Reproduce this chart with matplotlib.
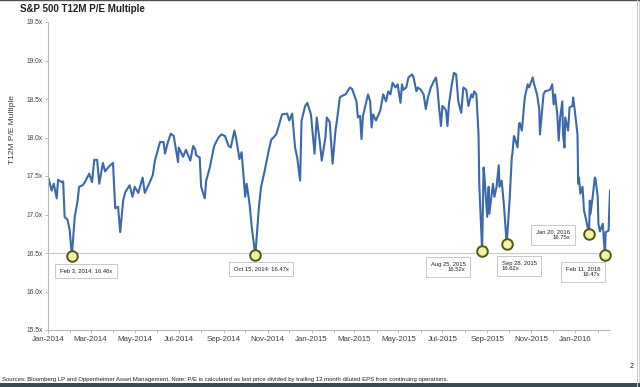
import numpy as np
import pandas as pd
import matplotlib
matplotlib.use("Agg")
import matplotlib.pyplot as plt
import matplotlib.dates as mdates
from matplotlib.patches import Rectangle
from matplotlib.lines import Line2D

plt.rcParams['font.family'] = ['Liberation Sans', 'DejaVu Sans']

# P/E multiple (approx. every few trading days)
dates = [
    "2014-01-02", "2014-01-06", "2014-01-09", "2014-01-13", "2014-01-15", "2014-01-20",
    "2014-01-22", "2014-01-24", "2014-01-28", "2014-01-31", "2014-02-03", "2014-02-07",
    "2014-02-11", "2014-02-13", "2014-02-18", "2014-02-21", "2014-02-27", "2014-03-03",
    "2014-03-06", "2014-03-10", "2014-03-13", "2014-03-18", "2014-03-21", "2014-03-27",
    "2014-04-01", "2014-04-02", "2014-04-04", "2014-04-08", "2014-04-11", "2014-04-15",
    "2014-04-18", "2014-04-24", "2014-04-28", "2014-05-01", "2014-05-06", "2014-05-12",
    "2014-05-15", "2014-05-20", "2014-05-26", "2014-05-29", "2014-06-05", "2014-06-10",
    "2014-06-12", "2014-06-16", "2014-06-20", "2014-06-24", "2014-06-30", "2014-07-01",
    "2014-07-07", "2014-07-11", "2014-07-17", "2014-07-21", "2014-07-24", "2014-07-25",
    "2014-07-30", "2014-08-01", "2014-08-06", "2014-08-08", "2014-08-13", "2014-08-19",
    "2014-08-25", "2014-08-29", "2014-09-03", "2014-09-08", "2014-09-11", "2014-09-16",
    "2014-09-19", "2014-09-23", "2014-09-26", "2014-10-01", "2014-10-03", "2014-10-07",
    "2014-10-10", "2014-10-15", "2014-10-20", "2014-10-23", "2014-10-28", "2014-11-03",
    "2014-11-06", "2014-11-13", "2014-11-17", "2014-11-21", "2014-11-28", "2014-12-01",
    "2014-12-05", "2014-12-09", "2014-12-12", "2014-12-16", "2014-12-18", "2014-12-23",
    "2014-12-26", "2014-12-31", "2015-01-05", "2015-01-08", "2015-01-12", "2015-01-15",
    "2015-01-20", "2015-01-22", "2015-01-26", "2015-01-30", "2015-02-03", "2015-02-05",
    "2015-02-09", "2015-02-12", "2015-02-17", "2015-02-23", "2015-02-26", "2015-03-04",
    "2015-03-06", "2015-03-09", "2015-03-11", "2015-03-13", "2015-03-20", "2015-03-23",
    "2015-03-25", "2015-03-27", "2015-03-31", "2015-04-06", "2015-04-10", "2015-04-14",
    "2015-04-17", "2015-04-20", "2015-04-23", "2015-04-27", "2015-04-30", "2015-05-04",
    "2015-05-06", "2015-05-08", "2015-05-12", "2015-05-15", "2015-05-20", "2015-05-22",
    "2015-05-26", "2015-05-28", "2015-06-01", "2015-06-05", "2015-06-08", "2015-06-11",
    "2015-06-15", "2015-06-19", "2015-06-22", "2015-06-24", "2015-06-26", "2015-06-29",
    "2015-07-01", "2015-07-03", "2015-07-06", "2015-07-08", "2015-07-10", "2015-07-14",
    "2015-07-17", "2015-07-20", "2015-07-23", "2015-07-27", "2015-07-30", "2015-08-03",
    "2015-08-06", "2015-08-10", "2015-08-12", "2015-08-14", "2015-08-17", "2015-08-20",
    "2015-08-21", "2015-08-25", "2015-08-27", "2015-08-28", "2015-09-01", "2015-09-03",
    "2015-09-04", "2015-09-09", "2015-09-11", "2015-09-14", "2015-09-17", "2015-09-18",
    "2015-09-21", "2015-09-24", "2015-09-28", "2015-10-02", "2015-10-05", "2015-10-06",
    "2015-10-08", "2015-10-09", "2015-10-13", "2015-10-15", "2015-10-16", "2015-10-19",
    "2015-10-22", "2015-10-23", "2015-10-27", "2015-10-29", "2015-11-03", "2015-11-05",
    "2015-11-09", "2015-11-12", "2015-11-13", "2015-11-16", "2015-11-18", "2015-11-20",
    "2015-11-24", "2015-11-27", "2015-11-30", "2015-12-02", "2015-12-04", "2015-12-07",
    "2015-12-09", "2015-12-11", "2015-12-14", "2015-12-15", "2015-12-17", "2015-12-18",
    "2015-12-22", "2015-12-24", "2015-12-28", "2015-12-29", "2015-12-31", "2016-01-04",
    "2016-01-05", "2016-01-06", "2016-01-08", "2016-01-11", "2016-01-13", "2016-01-15",
    "2016-01-20", "2016-01-21", "2016-01-22", "2016-01-25", "2016-01-28", "2016-01-29",
    "2016-02-01", "2016-02-02", "2016-02-04", "2016-02-08", "2016-02-11", "2016-02-12",
    "2016-02-16", "2016-02-18",
]
pe = [
    17.46, 17.31, 17.40, 17.21, 17.45, 17.42,
    17.43, 16.97, 16.93, 16.80, 16.46, 16.97,
    17.18, 17.36, 17.38, 17.42, 17.53, 17.42,
    17.71, 17.71, 17.40, 17.67, 17.56, 17.63,
    17.67, 17.48, 17.08, 17.10, 16.77, 17.18,
    17.29, 17.38, 17.23, 17.36, 17.28, 17.48,
    17.28, 17.38, 17.51, 17.70, 17.94, 17.94,
    17.79, 17.94, 18.05, 18.02, 17.68, 17.87,
    17.75, 17.84, 17.70, 17.89, 17.84, 17.77,
    17.74, 17.36, 17.21, 17.44, 17.61, 17.89,
    18.00, 18.04, 18.02, 17.89, 17.87, 18.09,
    17.96, 17.72, 17.81, 17.23, 17.40, 17.14,
    16.84, 16.47, 17.10, 17.36, 17.57, 17.85,
    17.97, 18.04, 18.17, 18.30, 18.31, 18.22,
    18.31, 17.87, 17.74, 17.44, 18.22, 18.41,
    18.45, 18.30, 17.79, 18.26, 17.96, 17.70,
    18.00, 18.26, 18.20, 17.66, 18.09, 18.22,
    18.52, 18.54, 18.56, 18.65, 18.63, 18.47,
    18.26, 18.28, 17.98, 18.28, 18.56, 18.47,
    18.13, 18.30, 18.22, 18.35, 18.56, 18.47,
    18.60, 18.56, 18.71, 18.65, 18.69, 18.45,
    18.69, 18.62, 18.65, 18.78, 18.82, 18.78,
    18.60, 18.65, 18.62, 18.56, 18.37, 18.52,
    18.65, 18.73, 18.78, 18.65, 18.43, 18.15,
    18.41, 18.39, 18.35, 18.15, 18.43, 18.69,
    18.84, 18.82, 18.47, 18.32, 18.65, 18.62,
    18.41, 18.56, 18.52, 18.60, 18.56, 18.04,
    17.40, 16.52, 17.61, 17.52, 16.97, 17.36,
    17.01, 17.40, 17.23, 17.36, 17.64, 17.36,
    17.44, 17.14, 16.62, 17.18, 17.74, 17.80,
    18.02, 18.00, 17.87, 18.17, 18.19, 18.09,
    18.41, 18.52, 18.69, 18.65, 18.78, 18.69,
    18.56, 18.37, 18.04, 18.35, 18.56, 18.60,
    18.61, 18.62, 18.69, 18.43, 18.56, 18.30,
    17.96, 18.26, 18.47, 18.04, 17.87, 18.26,
    18.09, 18.39, 18.41, 18.52, 18.37, 18.04,
    17.40, 17.48, 17.27, 17.36, 17.05, 16.97,
    16.75, 17.18, 17.01, 17.23, 17.48, 17.46,
    17.23, 16.88, 16.78, 16.88, 16.47, 16.77,
    16.79, 17.31,
]

# highlighted lows
low_dates = ["2014-02-03", "2014-10-15", "2015-08-25", "2015-09-28", "2016-01-20", "2016-02-11"]
low_values = [16.46, 16.47, 16.52, 16.62, 16.75, 16.47]
low_labels = ["Feb 3, 2014: 16.46x", "Oct 15, 2014: 16.47x", "Aug 25, 2015\n16.52x",
              "Sep 28, 2015\n16.62x", "Jan 20, 2016\n16.75x", "Feb 11, 2016\n16.47x"]
label_pos = [(86, 271), (261, 269), (448, 267), (519, 266), (553, 235), (583, 272)]
label_align = ["center", "center", "right", "left", "right", "right"]

d = pd.to_datetime(dates)
ld = pd.to_datetime(low_dates)

fig = plt.figure(figsize=(6.4, 3.87), dpi=100)
ax = fig.add_axes([48 / 640, 1 - 330 / 387, (610 - 48) / 640, (330 - 22) / 387])

ax.axhline(16.5, color='#c8c8c8', lw=0.8, zorder=1)
ax.plot(d, pe, color='#3c68ad', lw=1.5, zorder=2)
ax.scatter(ld, low_values, s=58, facecolor='#f2f2a6', edgecolor='#4e5a12', linewidths=1.4,
           zorder=3, clip_on=False)

ax.set_ylim(15.5, 19.5)
ax.set_yticks(np.arange(15.5, 19.51, 0.5))
ax.set_yticklabels([f"{v:.1f}x" for v in np.arange(15.5, 19.51, 0.5)], fontsize=4.8, color='#404040')
ax.set_xlim(pd.Timestamp("2014-01-01"), pd.Timestamp("2016-02-18"))
ax.xaxis.set_major_locator(mdates.MonthLocator(bymonth=[1, 3, 5, 7, 9, 11]))
ax.xaxis.set_minor_locator(mdates.MonthLocator())
ax.xaxis.set_major_formatter(mdates.DateFormatter('%b-%Y'))
ax.tick_params(axis='x', labelsize=5.7, colors='#404040', length=2, width=0.6, pad=2)
ax.tick_params(axis='x', which='minor', length=2, width=0.6, color='#b0b0b0')
ax.tick_params(axis='y', length=2, width=0.6, color='#b0b0b0', pad=2)
ax.tick_params(axis='x', which='major', color='#b0b0b0')
for s in ['top', 'right']:
    ax.spines[s].set_visible(False)
for s in ['left', 'bottom']:
    ax.spines[s].set_color('#b8b8b8')
    ax.spines[s].set_linewidth(0.8)

# annotation boxes (positions in pixels)
for (px, py), txt, al in zip(label_pos, low_labels, label_align):
    fig.text(px / 640, 1 - py / 387, txt, fontsize=4.2, color='#202020', ha='center', va='center',
             multialignment=al, linespacing=1.2,
             bbox=dict(boxstyle='square,pad=0.8', facecolor='white', edgecolor='#c0c0c0', linewidth=0.6))

fig.text(20 / 640, 1 - 9 / 387, "S&P 500 T12M P/E Multiple", fontsize=7, fontweight='bold',
         color='#202020', ha='left', va='center')
fig.text(13 / 640, 1 - 130 / 387, "T12M P/E Multiple", fontsize=6, rotation=90,
         color='#404040', ha='center', va='center')
fig.text(2 / 640, 1 - 380 / 387,
         "Sources: Bloomberg LP and Oppenheimer Asset Management. Note: P/E is calculated as last price "
         "divided by trailing 12 month diluted EPS from continuing operations.",
         fontsize=4.3, color='#202020', ha='left', va='center')
fig.text(632 / 640, 1 - 367 / 387, "2", fontsize=5, color='#202020', ha='center', va='center')

# frame of the slide
fig.add_artist(Line2D([0, 1], [0.999, 0.999], transform=fig.transFigure, color='#505050', lw=1))
fig.add_artist(Line2D([636.5 / 640, 636.5 / 640], [0, 1], transform=fig.transFigure, color='#c8c8c8', lw=0.7))
fig.add_artist(Line2D([639.5 / 640, 639.5 / 640], [0, 1], transform=fig.transFigure, color='#202020', lw=1))
fig.add_artist(Rectangle((0, 0), 1, 4 / 387, transform=fig.transFigure, color='#3b4b52', lw=0))

fig.savefig("out.png", dpi=100)
